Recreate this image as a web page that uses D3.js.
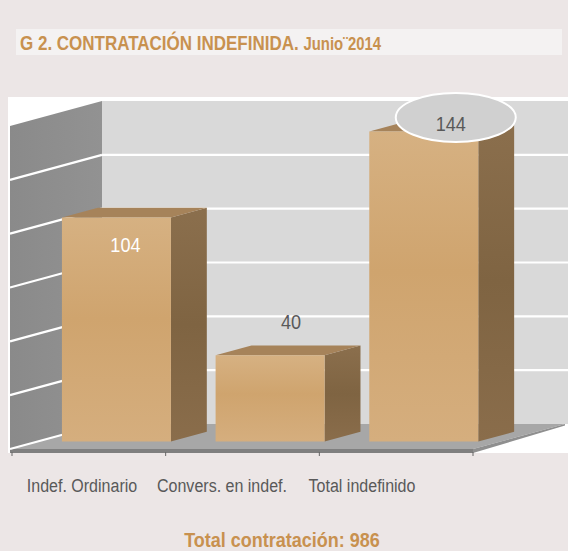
<!DOCTYPE html>
<html>
<head>
<meta charset="utf-8">
<script src="https://cdn.jsdelivr.net/npm/d3@7"></script>
<style>
  html, body { margin: 0; padding: 0; background: #ece6e6; }
  svg { display: block; }
</style>
</head>
<body>
<svg id="chart" width="568" height="551"></svg>
<script>
// ---- data ----
const categories = ["Indef. Ordinario", "Convers. en indef.", "Total indefinido"];
const values = [104, 40, 144];
const gridTicks = [0, 25, 50, 75, 100, 125];
const axisMax = 150;
const titleMain = "G 2. CONTRATACIÓN INDEFINIDA.";
const titleSub = "Junio¨2014";
const footer = "Total contratación: 986";

const FONT = "'Liberation Sans', Arial, sans-serif";
const svg = d3.select("#chart");

// condense text horizontally (reference uses a narrow face)
function condense(sel, k) {
  sel.each(function () {
    const w = this.getComputedTextLength();
    d3.select(this).attr("textLength", w * k).attr("lengthAdjust", "spacingAndGlyphs");
  });
  return sel;
}

// backgrounds
svg.append("rect").attr("x", 0).attr("y", 0).attr("width", 568).attr("height", 551).attr("fill", "#ece6e6");
svg.append("rect").attr("x", 16).attr("y", 29).attr("width", 546).attr("height", 26).attr("fill", "#f4f2f2");

const title = svg.append("text").attr("transform", "translate(20,49.5) scale(0.85,1)")
  .attr("font-family", FONT).attr("font-weight", "bold").attr("fill", "#c8914f");
title.append("tspan").attr("font-size", 20).text(titleMain + " ");
title.append("tspan").attr("font-size", 17.5).text(titleSub);

// plot area white
svg.append("rect").attr("x", 8).attr("y", 97).attr("width", 560).attr("height", 356).attr("fill", "#ffffff");

// ---- scales / projection ----
const y = d3.scaleLinear().domain([0, axisMax]).range([449, 126]);
const x = d3.scaleBand().domain(categories).range([12, 473]).paddingInner(0).paddingOuter(0);
const DX = 92, DY = 25;           // full depth offset
const P = (px, v, z) => [px + z * DX, y(v) - z * DY];
const poly = pts => "M" + pts.map(p => p.join(",")).join("L") + "Z";

const wallFrontX = 10;
const floorRightX = 473;

const defs = svg.append("defs");
const gLeft = defs.append("linearGradient").attr("id", "gLeft").attr("x1", 0).attr("x2", 1).attr("y1", 0).attr("y2", 0);
gLeft.append("stop").attr("offset", "0%").attr("stop-color", "#8a8a8a");
gLeft.append("stop").attr("offset", "100%").attr("stop-color", "#929292");

const gFront = defs.append("linearGradient").attr("id", "gFront").attr("x1", 0).attr("x2", 0).attr("y1", 0).attr("y2", 1);
gFront.append("stop").attr("offset", "0%").attr("stop-color", "#d6b182");
gFront.append("stop").attr("offset", "45%").attr("stop-color", "#cfa46e");
gFront.append("stop").attr("offset", "100%").attr("stop-color", "#d5ae7e");

const gSide = defs.append("linearGradient").attr("id", "gSide").attr("x1", 0).attr("x2", 0).attr("y1", 0).attr("y2", 1);
gSide.append("stop").attr("offset", "0%").attr("stop-color", "#8b6f4d");
gSide.append("stop").attr("offset", "50%").attr("stop-color", "#7f6442");
gSide.append("stop").attr("offset", "100%").attr("stop-color", "#8a6d4b");

// back wall
svg.append("path").attr("fill", "#d9d9d9")
  .attr("d", poly([P(wallFrontX, 0, 1), P(wallFrontX, axisMax, 1), [568, y(axisMax) - DY], [568, y(0) - DY]]));
// back wall grid
svg.append("g").selectAll("line").data(gridTicks.filter(t => t > 0)).join("line")
  .attr("x1", d => P(wallFrontX, d, 1)[0]).attr("x2", 568)
  .attr("y1", d => P(wallFrontX, d, 1)[1]).attr("y2", d => P(wallFrontX, d, 1)[1])
  .attr("stroke", "#ffffff").attr("stroke-width", 2.2);

// left wall
svg.append("path").attr("fill", "url(#gLeft)")
  .attr("d", poly([P(wallFrontX, 0, 0), P(wallFrontX, axisMax, 0), P(wallFrontX, axisMax, 1), P(wallFrontX, 0, 1)]));

// floor
svg.append("path").attr("fill", "#a7a7a7")
  .attr("d", poly([P(wallFrontX, 0, 0), P(floorRightX, 0, 0), P(floorRightX, 0, 1), P(wallFrontX, 0, 1)]));
// floor thickness
svg.append("path").attr("fill", "#7f7f7f")
  .attr("d", poly([P(wallFrontX, 0, 0), P(floorRightX, 0, 0), [floorRightX, y(0) + 4], [wallFrontX, y(0) + 4]]));
svg.append("path").attr("fill", "#8f8f8f")
  .attr("d", poly([P(floorRightX, 0, 0), P(floorRightX, 0, 1), [P(floorRightX, 0, 1)[0], P(floorRightX, 0, 1)[1] + 1.5], [floorRightX, y(0) + 4]]));

// left wall grid
svg.append("g").selectAll("line").data(gridTicks).join("line")
  .attr("x1", d => P(wallFrontX, d, 0)[0]).attr("y1", d => P(wallFrontX, d, 0)[1])
  .attr("x2", d => P(wallFrontX, d, 1)[0]).attr("y2", d => P(wallFrontX, d, 1)[1])
  .attr("stroke", "#ffffff").attr("stroke-width", 2.2);

// category ticks
const tickPos = categories.map(c => x(c)).concat([x(categories[categories.length - 1]) + x.bandwidth()]);
svg.append("g").selectAll("line").data(tickPos).join("line")
  .attr("x1", d => d).attr("x2", d => d).attr("y1", y(0) + 3).attr("y2", y(0) + 7)
  .attr("stroke", "#666").attr("stroke-width", 1);

// bars
const barW = 109, z0 = 0.3, z1 = 0.69;
const bars = svg.append("g");
categories.forEach((c, i) => {
  const v = values[i];
  const xl = x(c) + (x.bandwidth() - barW) / 2, xr = xl + barW;
  const g = bars.append("g");
  g.append("path").attr("fill", "url(#gSide)")
    .attr("d", poly([P(xr, 0, z0), P(xr, v, z0), P(xr, v, z1), P(xr, 0, z1)]));
  g.append("path").attr("fill", "#a6835a")
    .attr("d", poly([P(xl, v, z0), P(xr, v, z0), P(xr, v, z1), P(xl, v, z1)]));
  g.append("path").attr("fill", "url(#gFront)")
    .attr("d", poly([P(xl, 0, z0), P(xr, 0, z0), P(xr, v, z0), P(xl, v, z0)]));
});

// value labels
categories.forEach((c, i) => {
  const v = values[i];
  const cx = x(c) + x.bandwidth() / 2 + z0 * DX;
  const top = P(0, v, z0)[1];
  let t;
  if (i === 0) {
    t = svg.append("text").attr("x", cx + 9).attr("y", top + 34.5).attr("fill", "#ffffff");
  } else if (i === 1) {
    t = svg.append("text").attr("x", cx + 21).attr("y", top - 26).attr("fill", "#595959");
  } else {
    svg.append("ellipse").attr("cx", cx + 32).attr("cy", top - 14).attr("rx", 60).attr("ry", 24.5)
      .attr("fill", "#d0d0d0").attr("stroke", "#ffffff").attr("stroke-width", 2);
    t = svg.append("text").attr("x", cx + 27).attr("y", top).attr("fill", "#595959");
  }
  t.attr("text-anchor", "middle").attr("font-family", FONT).attr("font-size", 21).text(v).call(condense, 0.86);
});

// category labels
const xLab = d3.scaleBand().domain(categories).range([12, 432]);
svg.append("g").selectAll("text").data(categories).join("text")
  .attr("x", d => xLab(d) + xLab.bandwidth() / 2).attr("y", 492)
  .attr("text-anchor", "middle").attr("font-family", FONT).attr("font-size", 18)
  .attr("fill", "#595959").text(d => d).call(condense, 0.89);

// footer
svg.append("text").attr("x", 282).attr("y", 547).attr("text-anchor", "middle")
  .attr("font-family", FONT).attr("font-weight", "bold").attr("font-size", 20)
  .attr("fill", "#c8914f").text(footer).call(condense, 0.9);
</script>
</body>
</html>
